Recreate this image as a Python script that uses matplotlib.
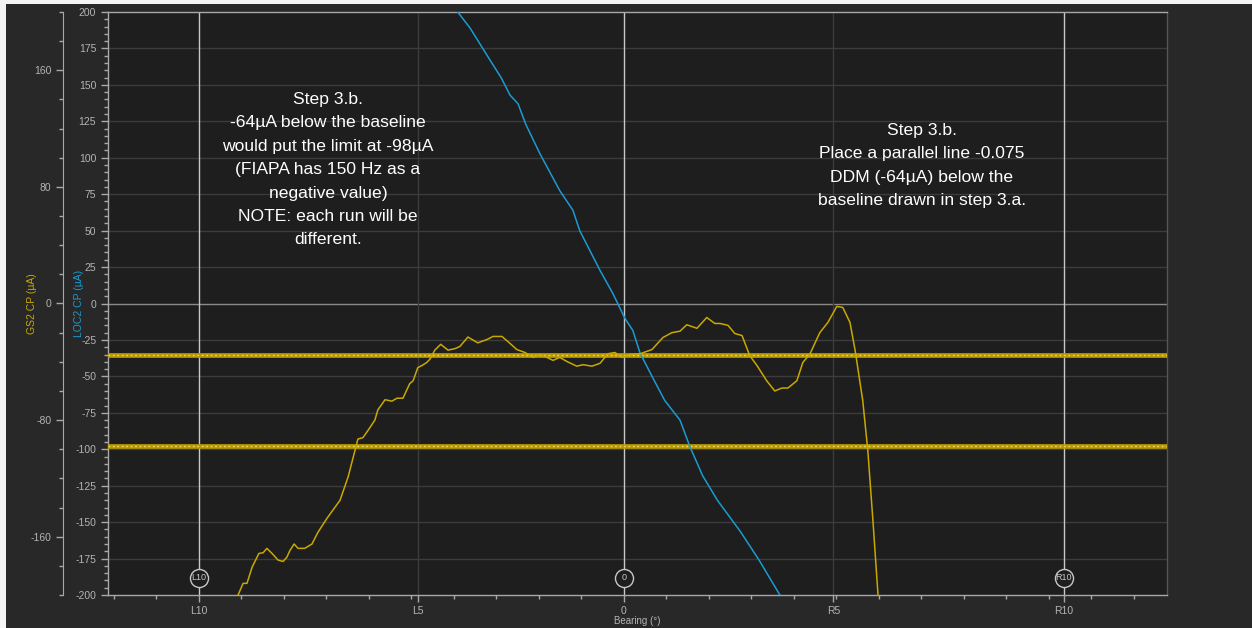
import matplotlib
matplotlib.use("Agg")
import matplotlib.pyplot as plt
from matplotlib.ticker import MultipleLocator, FixedLocator
import numpy as np

# ---------------- data ----------------
gs2_bearing = [-9.08, -8.96, -8.87, -8.75, -8.59, -8.49, -8.40, -8.28, -8.14, -8.02,
               -7.93, -7.86, -7.76, -7.67, -7.51, -7.34, -7.20, -6.99, -6.68, -6.49,
               -6.33, -6.26, -6.14, -6.02, -5.86, -5.79, -5.62, -5.46, -5.34, -5.20,
               -5.04, -4.96, -4.85, -4.75, -4.64, -4.56, -4.45, -4.31, -4.14, -3.98,
               -3.86, -3.67, -3.44, -3.22, -3.08, -2.87, -2.68, -2.52, -2.33, -2.14,
               -1.98, -1.81, -1.67, -1.51, -1.34, -1.11, -0.96, -0.75, -0.56, -0.38,
               -0.21, -0.05, 0.14, 0.38, 0.66, 0.92, 1.13, 1.32, 1.48, 1.60,
               1.72, 1.95, 2.14, 2.26, 2.45, 2.61, 2.78, 2.96, 3.13, 3.36,
               3.55, 3.72, 3.86, 4.07, 4.21, 4.38, 4.61, 4.80, 5.01, 5.15,
               5.32, 5.44, 5.62, 5.74, 5.86, 5.98]
gs2_cp = [-200, -192, -192, -181, -171.5, -171, -168, -171.5, -176, -177,
          -174, -169.5, -165, -168, -168, -165, -157, -147.5, -135, -119,
          -101, -93, -92, -87, -80, -73, -66, -67, -65, -65,
          -55, -53, -44, -42.5, -40.5, -38, -32, -28, -32, -31,
          -29.5, -23, -27, -24.7, -22.6, -22.6, -27.4, -31.6, -33.6, -37,
          -35, -37, -39, -37, -39.8, -43, -42, -43, -41, -34.5,
          -33.6, -37, -35, -34.5, -31.6, -23.3, -20, -19, -14.6, -15.8,
          -17, -9.6, -13.7, -13.7, -15, -20.6, -22, -35.7, -42.5, -53,
          -60, -58, -58, -53, -40.5, -34.5, -20, -13, -2, -2.7,
          -13, -32, -66.5, -101, -149, -200]

loc2_bearing = [-3.91, -3.62, -3.15, -2.89, -2.68, -2.49, -2.31, -1.98, -1.51, -1.20,
                -1.04, -0.56, -0.26, 0.02, 0.21, 0.38, 0.68, 0.96, 1.32, 1.55,
                1.85, 2.20, 2.73, 3.18, 3.67]
loc2_cp = [200, 189, 167, 155, 143, 137, 123, 103, 77.5, 64,
           50, 22.6, 6.9, -10, -18.5, -34, -51, -66.5, -80, -98,
           -118, -135, -156, -176, -200]

baseline_cp = -35
limit_cp = -98

x_tick_pos = [-10.0, -4.85, 0.0, 4.93, 10.35]
x_tick_labels = ["L10", "L5", "0", "R5", "R10"]
marker_pos = [-10.0, 0.0, 10.35]
marker_labels = ["L10", "0", "R10"]
marker_level = -188

gs2_ticks = [-160, -80, 0, 80, 160]

left_note = ("Step 3.b.\n-64\u00b5A below the baseline\nwould put the limit at -98\u00b5A\n"
             "(FIAPA has 150 Hz as a\nnegative value)\nNOTE: each run will be\ndifferent.")
right_note = ("Step 3.b.\nPlace a parallel line -0.075\nDDM (-64\u00b5A) below the\n"
              "baseline drawn in step 3.a.")

# ---------------- style ----------------
YEL = "#c9a800"
BLUE = "#1b9bd1"
TXT = "#b4b4b4"
plt.rcParams["font.family"] = ["Liberation Sans", "DejaVu Sans"]
plt.rcParams["axes.unicode_minus"] = False

fig = plt.figure(figsize=(12.52, 6.28), dpi=100, facecolor="#282828")
fig.patches.append(plt.Rectangle((0, 0), 6 / 1252, 1, transform=fig.transFigure,
                                 facecolor="#f4f4f4", edgecolor="none", zorder=-5))
fig.patches.append(plt.Rectangle((0, 1 - 4 / 628), 1, 4 / 628, transform=fig.transFigure,
                                 facecolor="#f4f4f4", edgecolor="none", zorder=-5))

ax = fig.add_axes([108 / 1252, 1 - 595 / 628, (1167 - 108) / 1252, (595 - 12) / 628])
ax.set_facecolor("#1e1e1e")
ax.set_xlim(-12.14, 12.78)
ax.set_ylim(-200, 200)

# grid
for yv in np.arange(-175, 200, 25):
    ax.axhline(yv, color="#8a8a8a" if yv == 0 else "#3c3c3c", lw=1.0, zorder=1)
for xv, lab in zip(x_tick_pos, x_tick_labels):
    bright = lab in marker_labels
    ax.axvline(xv, color="#c8c8c8" if bright else "#3c3c3c", lw=1.0, zorder=1)

# baseline and limit lines
for yv in (baseline_cp, limit_cp):
    ax.axhline(yv, color="#b99b00", lw=3.4, zorder=3)
    ax.axhline(yv, color="#ead57a", lw=1.0, dashes=(1.2, 2.0), zorder=3.5)

ax.plot(loc2_bearing, loc2_cp, color=BLUE, lw=1.1, zorder=4)
ax.plot(gs2_bearing, gs2_cp, color=YEL, lw=1.1, zorder=4)

# bearing markers
for xv, lab in zip(marker_pos, marker_labels):
    ax.plot([xv], [marker_level], marker="o", ms=13, mfc="#1e1e1e", mec="#c8c8c8",
            mew=1.0, zorder=5, clip_on=False)
    ax.text(xv, marker_level, lab, color="#c8c8c8", fontsize=6.5, ha="center",
            va="center", zorder=6)

# axes styling
for s in ["top", "right", "bottom", "left"]:
    ax.spines[s].set_color("#a8a8a8")
    ax.spines[s].set_linewidth(1.0)
ax.spines["right"].set_color("#555555")

ax.xaxis.set_major_locator(FixedLocator(x_tick_pos))
ax.set_xticklabels(x_tick_labels)
ax.xaxis.set_minor_locator(MultipleLocator(1))
ax.yaxis.set_major_locator(MultipleLocator(25))
ax.yaxis.set_minor_locator(MultipleLocator(5))
ax.tick_params(axis="both", which="major", colors="#a8a8a8", labelcolor=TXT,
               labelsize=7.5, length=5, width=1)
ax.tick_params(axis="both", which="minor", colors="#a8a8a8", length=3, width=1)
ax.tick_params(axis="x", pad=3)
ax.set_xlabel("Bearing (\u00b0)", color=TXT, fontsize=7, labelpad=0)
ax.set_ylabel("LOC2 CP (\u00b5A)", color=BLUE, fontsize=7.5)
ax.yaxis.set_label_coords(-0.0224, 0.5)

# secondary outer axis
ax2 = ax.twinx()
ax2.set_ylim(-200, 200)
ax2.yaxis.set_ticks_position("left")
ax2.yaxis.set_label_position("left")
ax2.spines["left"].set_position(("outward", 32.4))
ax2.spines["left"].set_visible(True)
ax2.spines["left"].set_color("#a8a8a8")
for s in ["top", "right", "bottom"]:
    ax2.spines[s].set_visible(False)
ax2.yaxis.set_major_locator(FixedLocator(gs2_ticks))
ax2.yaxis.set_minor_locator(MultipleLocator(20))
ax2.tick_params(axis="y", which="major", colors="#a8a8a8", labelcolor=TXT,
                labelsize=7.5, length=5, width=1)
ax2.tick_params(axis="y", which="minor", colors="#a8a8a8", length=3, width=1)
ax2.set_ylabel("GS2 CP (\u00b5A)", color=YEL, fontsize=7.5)
ax2.yaxis.set_label_coords(-0.067, 0.5)

# annotations
fig.text(328 / 1252, 1 - 92 / 628, left_note, color="white", fontsize=12.6,
         ha="center", va="top", linespacing=1.70, multialignment="center")
fig.text(922 / 1252, 1 - 123 / 628, right_note, color="white", fontsize=12.6,
         ha="center", va="top", linespacing=1.70, multialignment="center")

fig.savefig("out.png", dpi=100, facecolor=fig.get_facecolor())
